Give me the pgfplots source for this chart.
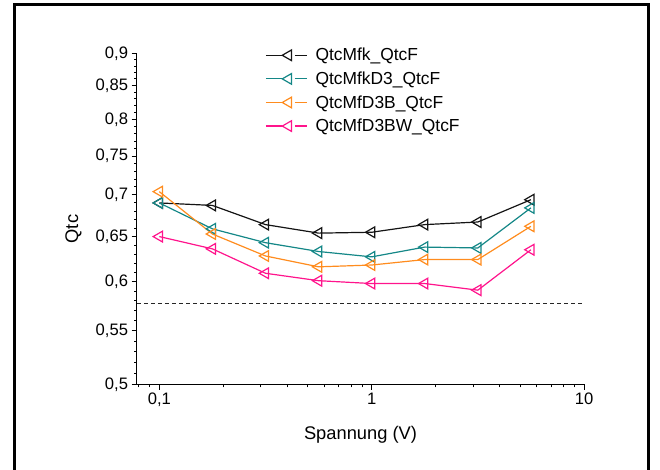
\documentclass[border=0pt]{standalone}
\usepackage{fontspec}
\setmainfont{Liberation Sans}
\usepackage{pgfplots}
\pgfplotsset{compat=1.18}
\definecolor{cblack}{RGB}{20,20,20}
\definecolor{cteal}{RGB}{20,135,135}
\definecolor{corange}{RGB}{255,140,30}
\definecolor{cpink}{RGB}{255,20,140}
\begin{document}
\begin{tikzpicture}
\useasboundingbox (0pt,0pt) rectangle (660pt,470pt);
\begin{axis}[
  at={(137pt,85.7pt)}, anchor=south west,
  scale only axis, width=447pt, height=331pt,
  xmode=log, ymode=log,
  xmin=0.0785, xmax=10, ymin=0.5, ymax=0.9,
  axis x line=bottom, axis y line=left,
  axis line style={-, line width=1pt, black},
  tick align=outside,
  major tick length=5.5pt, minor tick length=3pt,
  every tick/.style={black, line width=0.9pt},
  xtick={0.1,1,10}, xticklabels={{0,1},{1},{10}},
  minor xtick={0.08,0.09,0.2,0.3,0.4,0.5,0.6,0.7,0.8,0.9,2,3,4,5,6,7,8,9},
  ytick={0.5,0.55,0.6,0.65,0.7,0.75,0.8,0.85,0.9},
  yticklabels={{0,5},{0,55},{0,6},{0,65},{0,7},{0,75},{0,8},{0,85},{0,9}},
  minor ytick={0.51,0.52,0.53,0.54,0.56,0.57,0.58,0.59,0.61,0.62,0.63,0.64,0.66,0.67,0.68,0.69,0.71,0.72,0.73,0.74,0.76,0.77,0.78,0.79,0.81,0.82,0.83,0.84,0.86,0.87,0.88,0.89},
  tick label style={font=\fontsize{16.6}{20}\selectfont},
  label style={font=\fontsize{18.3}{22}\selectfont},
  xlabel={Spannung (V)},
  ylabel={Qtc},
  xlabel style={at={(axis description cs:0.5,-0.167)}, anchor=base},
  ylabel style={at={(axis description cs:-0.1424,0.469)}, anchor=center},
  clip=false,
  legend cell align=left,
  legend style={draw=none, fill=none, at={(axis description cs:0.28,1.028)}, anchor=north west,
    font=\fontsize{17.4}{20}\selectfont, row sep=5.5pt},
  legend image code/.code={%
    \draw[#1,mark=none] (0pt,0pt) -- (16pt,0pt);
    \draw[#1,mark=none] (29pt,0pt) -- (41pt,0pt);
    \draw[#1,only marks] plot coordinates {(22.5pt,0pt)};
    \path (47pt,0pt);
  },
  every axis plot/.append style={line width=1.2pt, mark=triangle,
    mark size=6.2pt, mark options={rotate=90, fill=white, solid}},
]
\addplot[cblack] coordinates {
(0.1,0.690) (0.1778,0.687) (0.3162,0.664) (0.5623,0.654) (1,0.655) (1.778,0.664) (3.162,0.667) (5.623,0.694)};
\addlegendentry{QtcMfk\_QtcF}
\addplot[cteal] coordinates {
(0.1,0.690) (0.1778,0.659) (0.3162,0.643) (0.5623,0.633) (1,0.627) (1.778,0.638) (3.162,0.637) (5.623,0.684)};
\addlegendentry{QtcMfkD3\_QtcF}
\addplot[corange] coordinates {
(0.1,0.704) (0.1778,0.653) (0.3162,0.628) (0.5623,0.616) (1,0.618) (1.778,0.624) (3.162,0.624) (5.623,0.662)};
\addlegendentry{QtcMfD3B\_QtcF}
\addplot[cpink] coordinates {
(0.1,0.650) (0.1778,0.636) (0.3162,0.609) (0.5623,0.601) (1,0.598) (1.778,0.598) (3.162,0.591) (5.623,0.635)};
\addlegendentry{QtcMfD3BW\_QtcF}
\addplot[forget plot, black!85, mark=none, line width=0.9pt, dash pattern=on 4pt off 3pt] coordinates {(0.0785,0.577) (10,0.577)};
\end{axis}
\draw[line width=3pt] (14.4pt,0pt) -- (14.4pt,465pt) -- (648.7pt,465pt) -- (648.7pt,0pt);
\end{tikzpicture}
\end{document}
